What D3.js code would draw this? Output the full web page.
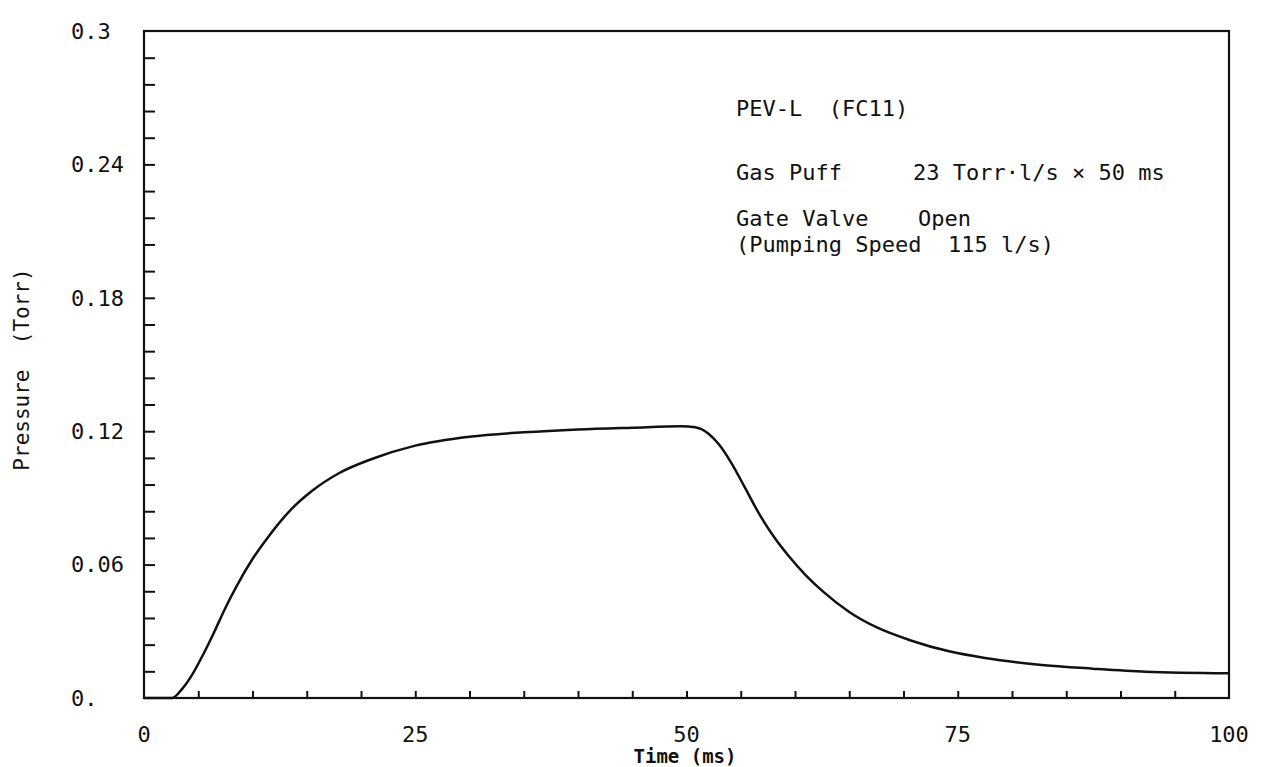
<!DOCTYPE html>
<html>
<head>
<meta charset="utf-8">
<script src="https://cdn.jsdelivr.net/npm/d3@7"></script>
<style>
  body { margin: 0; background: #fff; }
  text { font-family: "DejaVu Sans Mono", monospace; fill: #111; }
</style>
</head>
<body>
<div id="chart"></div>
<script>
// pressure trace, time in ms / pressure in Torr
var timeMs = [0, 2.6, 3.5, 4.5, 5.5, 6.5, 7.5, 8.5, 10, 11.5, 13.5, 15.5, 18, 21, 25, 30, 35, 40, 45, 49.5,
  50.8, 52, 53, 54.1, 55.4, 56.7, 58.1, 59.4, 61, 62.7, 65, 67.6, 70.6, 74.2, 77.5, 82.5, 87.4, 92.3, 100];
var pressure = [0, 0, 0.004, 0.011, 0.02, 0.03, 0.0405, 0.05, 0.0625, 0.0728, 0.0845, 0.0932, 0.1012, 0.1075, 0.1135, 0.1175, 0.1195, 0.1208, 0.1216, 0.1222,
  0.1218, 0.119, 0.114, 0.106, 0.0945, 0.0828, 0.0722, 0.064, 0.0552, 0.0474, 0.0387, 0.0316, 0.026, 0.021, 0.018, 0.015, 0.0132, 0.0118, 0.0111];

var xTickLabels = [0, 25, 50, 75, 100];
var yTickLabels = ["0.", "0.06", "0.12", "0.18", "0.24", "0.3"];
var yTickValues = [0, 0.06, 0.12, 0.18, 0.24, 0.3];

var notes = [
  ["PEV-L  (FC11)", ""],
  ["Gas Puff", "23 Torr\u00b7l/s \u00d7 50 ms"],
  ["Gate Valve", "Open"],
  ["(Pumping Speed  115 l/s)", ""]
];

var svgWidth = 1268;
var svgHeight = 767;
var margin = { top: 31, right: 39, bottom: 69, left: 144 };
var width = svgWidth - margin.left - margin.right;
var height = svgHeight - margin.top - margin.bottom;

var svg = d3.select("#chart")
  .append("svg")
  .attr("width", svgWidth)
  .attr("height", svgHeight);

var chartGroup = svg.append("g")
  .attr("transform", `translate(${margin.left}, ${margin.top})`);

var xScale = d3.scaleLinear().domain([0, 100]).range([0, width]);
var yScale = d3.scaleLinear().domain([0, 0.3]).range([height, 0]);

// frame
chartGroup.append("rect")
  .attr("width", width)
  .attr("height", height)
  .attr("fill", "none")
  .attr("stroke", "#111")
  .attr("stroke-width", 2.2);

// minor ticks, pointing inward
var xMinor = d3.range(5, 100, 5);
var yMinor = d3.range(1, 25).map(i => i * 0.012);

chartGroup.append("g")
  .attr("transform", `translate(0, ${height})`)
  .call(d3.axisTop(xScale).tickValues(xMinor).tickSize(7).tickFormat(""))
  .call(g => g.select(".domain").remove())
  .selectAll("line").attr("stroke", "#111").attr("stroke-width", 2);

chartGroup.append("g")
  .call(d3.axisRight(yScale).tickValues(yMinor).tickSize(11).tickFormat(""))
  .call(g => g.select(".domain").remove())
  .selectAll("line").attr("stroke", "#111").attr("stroke-width", 2);

// tick labels
chartGroup.selectAll(".xlab")
  .data(xTickLabels)
  .enter()
  .append("text")
  .attr("x", d => xScale(d))
  .attr("y", height + 44)
  .attr("text-anchor", "middle")
  .style("font-size", "22px")
  .text(d => d);

chartGroup.selectAll(".ylab")
  .data(yTickValues)
  .enter()
  .append("text")
  .attr("x", 71 - margin.left)
  .attr("y", d => yScale(d))
  .attr("dy", "0.35em")
  .style("font-size", "22px")
  .text((d, i) => yTickLabels[i]);

// axis titles
svg.append("text")
  .attr("transform", `translate(29, ${margin.top + height / 2 + 5}) rotate(-90)`)
  .attr("text-anchor", "middle")
  .style("font-size", "21px")
  .attr("xml:space", "preserve")
  .text("Pressure  (Torr)");

svg.append("text")
  .attr("x", 685)
  .attr("y", 763)
  .attr("text-anchor", "middle")
  .style("font-size", "19px")
  .style("font-weight", "bold")
  .text("Time (ms)");

// annotation block
var noteY = [116, 180, 226, 252];
var noteX2 = [0, 913, 918, 0];
var noteG = svg.append("g");
notes.forEach(function(n, i) {
  noteG.append("text")
    .attr("x", 736)
    .attr("y", noteY[i])
    .attr("xml:space", "preserve")
    .style("font-size", "22px")
    .text(n[0]);
  if (n[1]) {
    noteG.append("text")
      .attr("x", noteX2[i])
      .attr("y", noteY[i])
      .attr("xml:space", "preserve")
      .style("font-size", "22px")
      .text(n[1]);
  }
});

// pressure curve
var line = d3.line()
  .x((d, i) => xScale(timeMs[i]))
  .y(d => yScale(d))
  .curve(d3.curveMonotoneX);

chartGroup.append("path")
  .attr("d", line(pressure))
  .attr("fill", "none")
  .attr("stroke", "#111")
  .attr("stroke-width", 2.5);
</script>
</body>
</html>
